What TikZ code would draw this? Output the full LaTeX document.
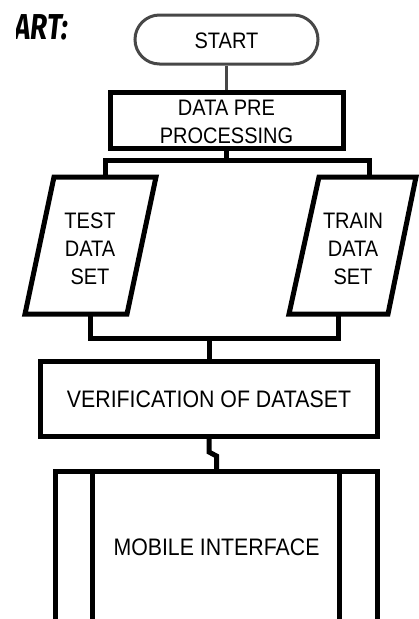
\documentclass[tikz,border=0pt]{standalone}
\usepackage{fontspec}
\setmainfont{Liberation Sans}
\newfontfamily\headfont{Fira Sans}
\usetikzlibrary{shapes.misc}
% tall, centred lines of label text, set a little low in their box
\newcommand{\talltext}[1]{\raisebox{-3pt}[\height][\depth]{\scalebox{1}[1.12]{\begin{tabular}{@{}c@{}}#1\end{tabular}}}}
\begin{document}
\begin{tikzpicture}[x=1pt,y=-1pt,
  txt/.style={inner sep=0pt, align=center, text=black},
  smalltxt/.style={txt, font=\fontsize{20}{25}\selectfont},
  bigtxt/.style={txt, font=\fontsize{21.3}{25}\selectfont},
  terminal/.style={rounded rectangle, draw=black!72, line width=3pt},
  stepbox/.style={rectangle, draw=black, line width=5pt},
  dataio/.style={draw=black, line width=5pt, line join=miter},
  link/.style={draw=black, line width=5pt, line join=miter},
  softlink/.style={draw=black!72, line width=3pt}]
\useasboundingbox (0,0) rectangle (419,619);
\clip (0,0) rectangle (419,619);

% heading, cut at the left edge
\begin{scope}
  \clip (16,0) rectangle (100,60);
  \node[anchor=base east, inner sep=0pt] (head) at (68,39)
    {\scalebox{0.78}[1]{\headfont\bfseries\itshape\fontsize{36}{36}\selectfont ART:}};
\end{scope}

% start terminal
\node[terminal, smalltxt, minimum width=183pt, minimum height=49pt] (start) at (226.5,39.5) {\talltext{START}};

% preprocessing step
\node[stepbox, smalltxt, minimum width=233pt, minimum height=48pt] (prep) at (226.5,120.5) {\talltext{DATA PRE\\PROCESSING}};

% input/output parallelograms
\coordinate (tTL) at (54,177);  \coordinate (tTR) at (156,177);
\coordinate (tBR) at (127,314); \coordinate (tBL) at (25,314);
\draw[dataio] (tTL) -- (tTR) -- (tBR) -- (tBL) -- cycle;
\node[smalltxt] (test) at (90,248) {\talltext{TEST\\DATA\\SET}};

\coordinate (rTL) at (319,177); \coordinate (rTR) at (416,177);
\coordinate (rBR) at (388,314); \coordinate (rBL) at (289,314);
\draw[dataio] (rTL) -- (rTR) -- (rBR) -- (rBL) -- cycle;
\node[smalltxt] (train) at (353,248) {\talltext{TRAIN\\DATA\\SET}};

% verification step
\node[stepbox, bigtxt, minimum width=337pt, minimum height=75pt] (verif) at (209,399) {\talltext{VERIFICATION OF DATASET}};

% predefined process (runs past the lower edge)
\node[stepbox, minimum width=322pt, minimum height=151pt] (mobile) at (216.5,547) {};
\draw[line width=5pt] ([xshift=39.5pt]mobile.north west) -- ([xshift=39.5pt]mobile.south west);
\draw[line width=5pt] ([xshift=-40.5pt]mobile.north east) -- ([xshift=-40.5pt]mobile.south east);
\node[bigtxt] (mobiletxt) at (216.5,547) {\talltext{MOBILE INTERFACE}};

% connectors
\draw[softlink] (start.south) -- (prep.north);

\coordinate (split) at (226.5,160.5);
\coordinate (testin) at (105.5,177);
\coordinate (trainin) at (369.5,177);
\draw[link] (prep.south) -- (split);
\draw[link] (testin) |- (split) -| (trainin);

\coordinate (merge) at (209,338);
\coordinate (testout) at (90,314);
\coordinate (trainout) at (338,314);
\draw[link] (testout) |- (merge) -| (trainout);
\draw[link] (merge) -- (verif.north);

\coordinate (jogA) at (209,452);
\coordinate (jogB) at (216.5,456);
\draw[link] (verif.south) -- (jogA) -- (jogB) -- (mobile.north);
\end{tikzpicture}
\end{document}
